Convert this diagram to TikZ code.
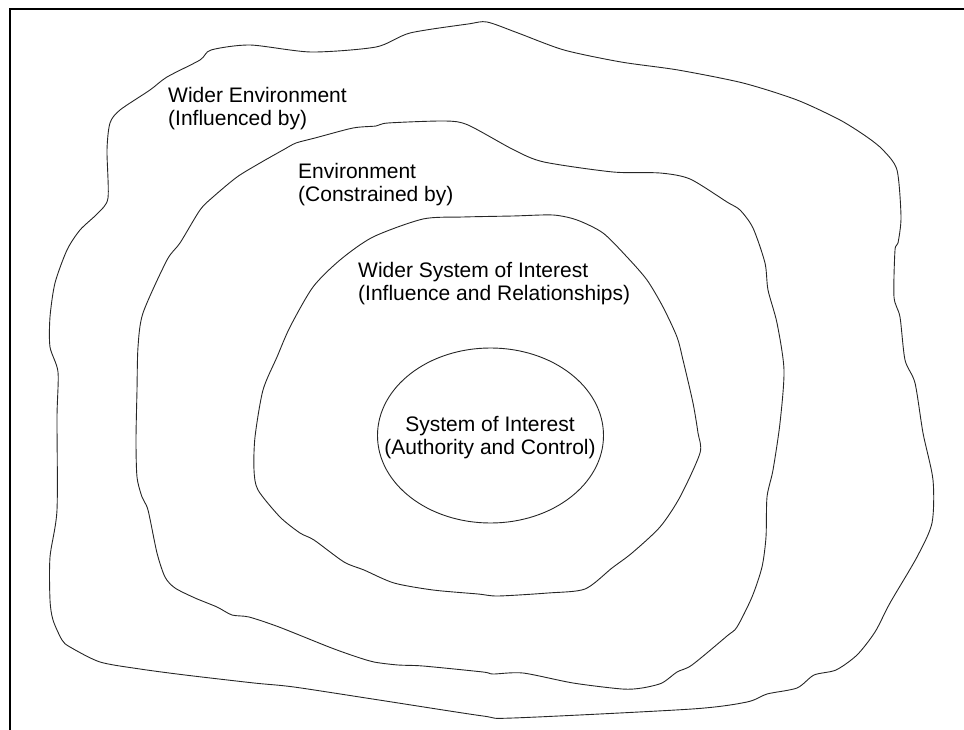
\documentclass[tikz,border=0pt]{standalone}
\usepackage{fontspec}
\setmainfont{Liberation Sans}
\usetikzlibrary{shapes.geometric}
\begin{document}
\begin{tikzpicture}[x=1pt,y=-1pt,
  blob/.style={draw=black!85, line width=0.9pt, line join=round},
  lbl/.style={anchor=north west, align=left, inner sep=0pt, font=\fontsize{21}{23.5}\selectfont},
  ctr/.style={anchor=center, align=center, inner sep=0pt, font=\fontsize{21}{23.5}\selectfont},
  frame/.style={draw=black, line width=2.6pt}]
\useasboundingbox (0,0) rectangle (964,730);
% frame (left and top edges only)
\coordinate (fbl) at (10,730);
\coordinate (ftl) at (10,9);
\coordinate (ftr) at (964,9);
\draw[frame] (fbl) -- (ftl) -- (ftr);
% Wider Environment
\draw[blob] plot[smooth cycle, tension=0.45] coordinates {
 (200,60) (211,50) (250,45) (311,52) (376,47) (410,33) (468,24) (487,22) (518,33)
 (564,50) (621,62) (678,70) (743,83) (797,100) (840,120) (867,137) (883,150)
 (897,170) (901,217) (898,243) (895,250) (894,297) (900,317) (905,360) (915,383)
 (923,433) (933,480) (932,523) (917,557) (890,603) (875,632) (857,655) (836,670)
 (814,675) (797,688) (767,694) (747,702) (692,709) (513,718) (483,716) (379,700)
 (294,687) (254,683) (185,675) (140,669) (100,662) (70,647) (62,640) (53,620)
 (50,600) (50,557) (57,510) (57,417) (58,372) (50,347) (50,317) (55,283) (67,250)
 (80,230) (98,213) (108,198) (107,150) (110,123) (120,110) (150,90) (167,77)};
% Environment
\draw[blob] plot[smooth cycle, tension=0.45] coordinates {
 (445,121) (468,125) (514,150) (544,162) (613,172) (660,173) (690,179) (727,202)
 (740,210) (753,228) (765,263) (768,290) (777,323) (784,370) (780,423) (773,470)
 (767,497) (766,537) (762,567) (752,597) (737,627) (727,636) (692,665) (677,672)
 (662,683) (642,688) (622,689) (573,683) (523,673) (493,674) (483,672) (423,666)
 (398,665) (374,662) (354,656) (329,647) (279,627) (249,617) (232,615) (217,607)
 (195,598) (175,588) (165,577) (157,553) (148,510) (142,497) (137,477) (136,440)
 (137,390) (138,347) (143,313) (167,260) (180,243) (200,210) (213,197) (237,177)
 (260,163) (283,150) (296,143) (315,138) (353,128) (376,126) (388,123)};
% Wider System of Interest
\draw[blob] plot[smooth cycle, tension=0.45] coordinates {
 (423,219) (463,217) (513,216) (553,215) (577,220) (603,233) (627,257) (647,280)
 (663,307) (677,337) (683,360) (693,403) (698,433) (700,453) (680,497) (660,527)
 (632,553) (612,568) (585,589) (548,593) (498,596) (478,594) (433,590) (394,583)
 (364,570) (344,562) (314,540) (300,533) (280,517) (258,490) (254,470) (255,437)
 (263,390) (277,357) (290,327) (313,287) (340,260) (373,237)};
% System of Interest
\node[ellipse, draw=black!85, line width=0.9pt, minimum width=226pt, minimum height=175pt, inner sep=0pt] (soiring) at (490.5,435.5) {};
\node[ctr] (soi) at (490,437.5) {System of Interest\\(Authority and Control)};
% labels
\node[lbl] (wenv) at (168,87) {Wider Environment\\(Influenced by)};
\node[lbl] (env) at (298,163) {Environment\\(Constrained by)};
\node[lbl] (wsoi) at (358,262) {Wider System of Interest\\(Influence and Relationships)};
\end{tikzpicture}
\end{document}
